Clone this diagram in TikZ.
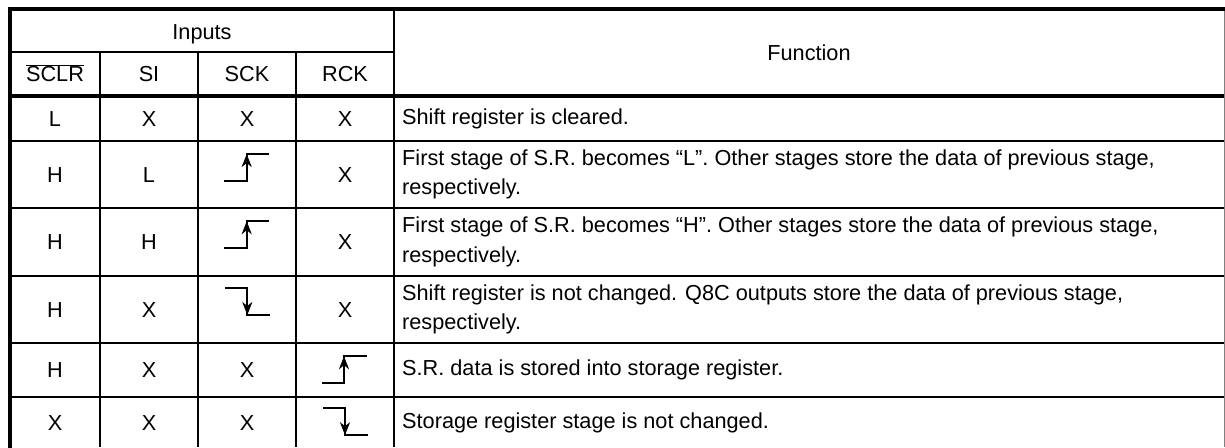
\documentclass[tikz,border=0pt]{standalone}
\usepackage{fontspec}
\setmainfont{Liberation Sans}
\usetikzlibrary{arrows.meta}
\tikzset{
  cell/.style={anchor=base, inner sep=0pt, font=\fontsize{21.7}{29.5}\selectfont},
  fn/.style={anchor=west, inner sep=0pt, align=left, font=\fontsize{21.7}{29.5}\selectfont},
  thickrule/.style={line width=4pt, line cap=rect},
  midrule/.style={line width=3.2pt},
  rowrule/.style={line width=2.4pt},
  colrule/.style={line width=2pt},
  sig/.style={line width=1.8pt},
  sigarrow/.style={line width=1.8pt, -{Stealth[length=13pt,width=10pt,inset=4pt]}},
  rise/.pic={\draw[sig] (-22.5,13.5) -- (0,13.5) -- (0,-13.5) -- (22.5,-13.5);
             \draw[sigarrow] (0,2) -- (0,-13.5);},
  fall/.pic={\draw[sig] (-22.5,-13.5) -- (0,-13.5) -- (0,13.5) -- (22.5,13.5);
             \draw[sigarrow] (0,-2) -- (0,13.5);}
}
\begin{document}
\begin{tikzpicture}[x=1pt,y=-1pt]
\useasboundingbox (0,0) rectangle (1225,447);
\fill[white] (0,0) rectangle (1225,447);
% grid
\draw[colrule] (100,52) -- (100,447);
\draw[colrule] (198,52) -- (198,447);
\draw[colrule] (296,52) -- (296,447);
\draw[colrule] (394,9) -- (394,447);
\draw[colrule] (10,52) -- (394,52);
\draw[midrule] (10,96) -- (1224,96);
\foreach \yy in {141,208,276,343,397} \draw[rowrule] (10,\yy) -- (1224,\yy);
\draw[gray, line width=1pt] (1224.5,9) -- (1224.5,447);
\draw[thickrule] (10,9) -- (1224,9);
\draw[thickrule] (10,9) -- (10,447);
% header
\node[cell] (inputs) at (202,39.5) {Inputs};
\node[cell] (function) at (809,60.3) {Function};
\node[cell] (hsclr) at (55,81.8) {$\overline{\mbox{SCLR}}$};
\node[cell] (hsi) at (149,81.8) {SI};
\node[cell] (hsck) at (247,81.8) {SCK};
\node[cell] (hrck) at (345,81.8) {RCK};
% row 1
\node[cell] (r1a) at (55,126.3) {L};
\node[cell] (r1b) at (149,126.3) {X};
\node[cell] (r1c) at (247,126.3) {X};
\node[cell] (r1d) at (345,126.3) {X};
\node[fn] (r1f) at (402,118.5) {Shift register is cleared.};
% row 2
\node[cell] (r2a) at (55,182.3) {H};
\node[cell] (r2b) at (149,182.3) {L};
\pic at (246.7,167.5) {rise};
\node[cell] (r2d) at (345,182.3) {X};
\node[fn] (r2f) at (402,174.5) {First stage of S.R. becomes “L”. Other stages store the data of previous stage,\\respectively.};
% row 3
\node[cell] (r3a) at (55,249.8) {H};
\node[cell] (r3b) at (149,249.8) {H};
\pic at (246.7,234.7) {rise};
\node[cell] (r3d) at (345,249.8) {X};
\node[fn] (r3f) at (402,242) {First stage of S.R. becomes “H”. Other stages store the data of previous stage,\\respectively.};
% row 4
\node[cell] (r4a) at (55,317.3) {H};
\node[cell] (r4b) at (149,317.3) {X};
\pic at (247.3,301.5) {fall};
\node[cell] (r4d) at (345,317.3) {X};
\node[fn] (r4f) at (402,309.5) {Shift register is not changed. Q8C outputs store the data of previous stage,\\respectively.};
% row 5
\node[cell] (r5a) at (55,377.8) {H};
\node[cell] (r5b) at (149,377.8) {X};
\node[cell] (r5c) at (247,377.8) {X};
\pic at (344,369.7) {rise};
\node[fn] (r5f) at (402,370) {S.R. data is stored into storage register.};
% row 6
\node[cell] (r6a) at (55,430.8) {X};
\node[cell] (r6b) at (149,430.8) {X};
\node[cell] (r6c) at (247,430.8) {X};
\pic at (345,421.7) {fall};
\node[fn] (r6f) at (402,423) {Storage register stage is not changed.};
\end{tikzpicture}
\end{document}
